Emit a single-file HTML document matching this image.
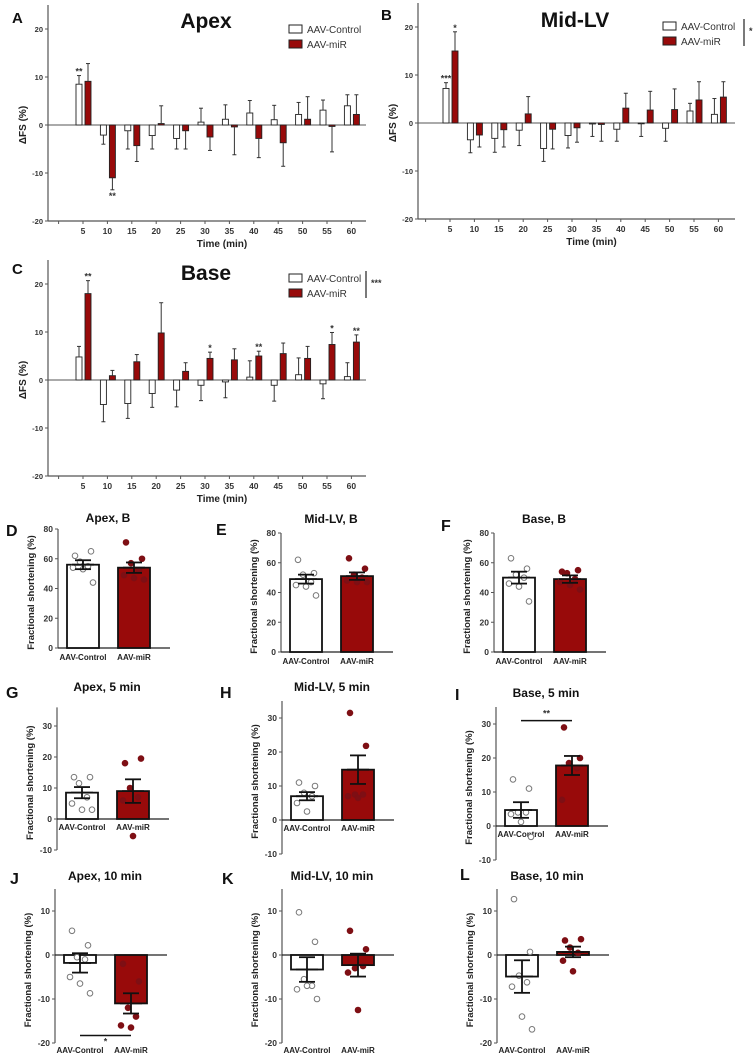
<!DOCTYPE html>
<html><head><meta charset="utf-8"><style>
body{margin:0;background:#fff}
svg{display:block;font-family:"Liberation Sans",Arial,sans-serif}
</style></head><body>
<svg id="fig" width="756" height="1057" viewBox="0 0 756 1057"></svg>
<script>
// ---------- time-course data ----------
const timeCats = [5,10,15,20,25,30,35,40,45,50,55,60];
const apexCtrl = [8.5,-2.1,-1.2,-2.2,-2.8,0.6,1.2,2.5,1.1,2.2,3.1,4.0];
const apexCtrlErr = [10.3,-4,-5,-5,-5,3.5,4.2,5.1,4.1,4.7,5.2,6.3];
const apexMir = [9.1,-11,-4.3,0.3,-1.2,-2.5,-0.4,-2.8,-3.7,1.2,-0.3,2.2];
const apexMirErr = [12.8,-13.5,-7.6,4,-5,-5.3,-6.2,-6.8,-8.6,5.9,-5.6,6.3];
const midCtrl = [7.2,-3.5,-3.2,-1.5,-5.3,-2.6,-0.2,-1.3,0,-1.1,2.5,1.8];
const midCtrlErr = [8.4,-6.2,-6.1,-4.7,-8,-5.2,-2.8,-3.8,-2.8,-3.8,4.1,5.1];
const midMir = [15,-2.5,-1.4,1.9,-1.3,-1,-0.3,3.1,2.7,2.8,4.8,5.4];
const midMirErr = [19,-5,-5,5.5,-5.4,-4,-3.8,6.2,6.6,7.1,8.6,8.6];
const baseCtrl = [4.8,-5.1,-4.9,-2.8,-2.1,-1.1,-0.4,0.6,-1.1,1.1,-0.8,0.7];
const baseCtrlErr = [7,-8.7,-8,-5.7,-5.6,-4.3,-3.7,4,-4.4,4.6,-3.9,3.6];
const baseMir = [18,0.9,3.8,9.8,1.8,4.5,4.2,5,5.5,4.5,7.4,7.9];
const baseMirErr = [20.7,2,5.3,16.1,3.6,5.8,6.5,6,7.7,7,9.9,9.4];
const yTicksTC = [20,10,0,-10,-20];

// ---------- small panel data ----------
const dCtrl=[62,65,58,55,54,53,44], dMir=[71,60,57,52,49,47,46], dStats=[56,3,54,3.5];
const eCtrl=[62,53,52,47,45,44,38], eMir=[63,56,52,50,48,47,47], eStats=[49,3,51,2.5];
const fCtrl=[63,56,52,50,46,44,34], fMir=[54,55,53,49,47,45,42], fStats=[50,4,49,2.5];
const gCtrl=[13.5,13.5,11.5,7,5,3,3], gMir=[18,19.5,10,7,6,-5.5], gStats=[8.5,1.8,9,3.8];
const hCtrl=[11,10,8,7,5,2.5], hMir=[31.5,21.8,7.5,7.5,7,6.5], hStats=[7,1.2,14.8,4.2];
const iCtrl=[13.7,11,4,4,3.5,1.2,-3.2], iMir=[29,20,18.5,17,7.7], iStats=[4.7,2.3,17.8,2.8];
const jCtrl=[5.5,2.2,-0.5,-1,-5,-6.5,-8.7], jMir=[-2,-6,-12,-14,-16,-16.5], jStats=[-1.8,2.2,-11,2.3];
const kCtrl=[9.7,3,-5.5,-7,-7.8,-7,-10], kMir=[5.5,1.3,-3,-2.5,-4,-12.5], kStats=[-3.3,2.8,-2.3,2.6];
const lCtrl=[12.7,0.7,-4.7,-6.2,-7.2,-14,-16.9], lMir=[3.3,3.6,1.7,0.5,-1.3,-3.7], lStats=[-4.9,3.7,0.7,1.2];
const ticksB=[80,60,40,20,0], ticks5=[30,20,10,0,-10], ticks10=[10,0,-10,-20];

const NS="http://www.w3.org/2000/svg";
const svg=document.getElementById('fig');
const RED="#980a0a", AX="#555";
function mk(tag,attrs,parent,txt){const e=document.createElementNS(NS,tag);for(const k in attrs)e.setAttribute(k,attrs[k]);if(txt!==undefined)e.textContent=txt;(parent||svg).appendChild(e);return e;}

function timeCourse(o){
  const g=mk('g',{});
  
  
  const y=v=>o.y0-v*4.8, x=i=>o.x5+i*24.4;
  const ya=mk('line',{x1:o.ax,x2:o.ax,y1:o.y0-120,y2:y(-20),stroke:AX,'stroke-width':1.2},g);
  
  const xa=mk('line',{x1:o.ax,x2:o.xEnd,y1:y(-20),y2:y(-20),stroke:AX,'stroke-width':1.2},g);
  
  mk('line',{x1:o.ax,x2:o.xEnd,y1:o.y0,y2:o.y0,stroke:AX,'stroke-width':1},g);
  yTicksTC.forEach(t=>{mk('line',{x1:o.ax-3,x2:o.ax,y1:y(t),y2:y(t),stroke:AX},g);
    const tl=mk('text',{x:o.ax-5,y:y(t)+3,'font-size':7.5,'font-weight':'bold','text-anchor':'end',fill:'#333'},g,t);
    });
  mk('line',{x1:o.x5-24.4,x2:o.x5-24.4,y1:y(-20),y2:y(-20)+3,stroke:AX},g);
  timeCats.forEach((c,i)=>{mk('line',{x1:x(i),x2:x(i),y1:y(-20),y2:y(-20)+3,stroke:AX},g);
    const tl=mk('text',{x:x(i),y:y(-20)+13,'font-size':8.5,'font-weight':'bold','text-anchor':'middle',fill:'#333'},g,c);
    });
  const xt=mk('text',{x:(o.ax+o.xEnd)/2+15,y:y(-20)+26,'font-size':10,'font-weight':'bold','text-anchor':'middle',fill:'#222'},g,'Time (min)');
  
  const yt=mk('text',{x:0,y:0,'font-size':10,'font-weight':'bold','text-anchor':'middle',fill:'#222',transform:`translate(${o.ax-22},${o.y0}) rotate(-90)`},g,'ΔFS (%)');
  
  function series(vals,errs,off,fill,nm){
    vals.forEach((v,i)=>{const cx=x(i)+off;
      const top=Math.min(y(v),o.y0), h=Math.max(Math.abs(y(v)-o.y0),0.8);
      const r=mk('rect',{x:cx-3,y:top,width:6,height:h,fill:fill,stroke:'#222','stroke-width':0.9},g);
      
      mk('line',{x1:cx,x2:cx,y1:y(v),y2:y(errs[i]),stroke:'#333','stroke-width':1},g);
      mk('line',{x1:cx-2,x2:cx+2,y1:y(errs[i]),y2:y(errs[i]),stroke:'#333','stroke-width':1},g);
    });
  }
  series(o.c,o.ce,-4,'#fff','control');
  series(o.m,o.me,5,RED,'mir');
  (o.stars||[]).forEach(s=>{const st=mk('text',{x:x(s[0])+(s[1]?5:-4),y:y(s[3])+(s[3]<0?9:-1),'font-size':9,'font-weight':'bold','text-anchor':'middle',fill:'#333'},g,s[2]);
    });
  const ti=mk('text',{x:o.tx,y:o.ty,'font-size':21,'font-weight':'bold','text-anchor':'middle',fill:'#111'},g,o.title);
  
  const le=mk('text',{x:o.lx,y:o.ly,'font-size':15,'font-weight':'bold',fill:'#111'},g,o.letter);
  
  const lg=mk('g',{},g);
  mk('rect',{x:o.gx,y:o.gy,width:13,height:8,fill:'#fff',stroke:'#222'},lg);
  mk('text',{x:o.gx+18,y:o.gy+8,'font-size':10,fill:'#333'},lg,'AAV-Control');
  mk('rect',{x:o.gx,y:o.gy+15,width:13,height:8,fill:RED,stroke:'#222'},lg);
  mk('text',{x:o.gx+18,y:o.gy+23,'font-size':10,fill:'#333'},lg,'AAV-miR');
  if(o.sig){mk('line',{x1:o.sig[0],x2:o.sig[0],y1:o.gy-3,y2:o.gy+24,stroke:'#222','stroke-width':1.2},lg);
    mk('text',{x:o.sig[0]+5,y:o.gy+12,'font-size':9,'font-weight':'bold',fill:'#333'},lg,o.sig[1]);}
}

timeCourse({name:'chart-apex',ax:48,xEnd:366,x5:83,y0:125,c:apexCtrl,ce:apexCtrlErr,m:apexMir,me:apexMirErr,
  title:'Apex',tx:206,ty:28,letter:'A',lx:12,ly:23,gx:289,gy:25,stars:[[0,0,'**',10.3],[1,1,'**',-13.5]]});
timeCourse({name:'chart-mid-lv',ax:418,xEnd:735,x5:450,y0:123,c:midCtrl,ce:midCtrlErr,m:midMir,me:midMirErr,
  title:'Mid-LV',tx:575,ty:27,letter:'B',lx:381,ly:20,gx:663,gy:22,sig:[744,'*'],stars:[[0,0,'***',8.4],[0,1,'*',19]]});
timeCourse({name:'chart-base',ax:48,xEnd:366,x5:83,y0:380,c:baseCtrl,ce:baseCtrlErr,m:baseMir,me:baseMirErr,
  title:'Base',tx:206,ty:280,letter:'C',lx:12,ly:274,gx:289,gy:274,sig:[366,'***'],
  stars:[[0,1,'**',20.7],[5,1,'*',5.8],[7,1,'**',6],[10,1,'*',9.9],[11,1,'**',9.4]]});

const jit=[-8,8,-3,5,-10,0,10];
function small(o){
  const g=mk('g',{});
  
  
  const y=v=>o.y0-v*o.k;
  const lo=o.ticks[o.ticks.length-1], hi=o.top;
  mk('line',{x1:o.ax,x2:o.ax,y1:y(hi),y2:y(lo),stroke:AX,'stroke-width':1.2},g);
  mk('line',{x1:o.ax,x2:o.ax+112,y1:o.y0,y2:o.y0,stroke:'#222','stroke-width':1.2},g);
  o.ticks.forEach(t=>{mk('line',{x1:o.ax-3,x2:o.ax,y1:y(t),y2:y(t),stroke:AX},g);
    const tl=mk('text',{x:o.ax-5,y:y(t)+3,'font-size':8.5,'font-weight':'bold','text-anchor':'end',fill:'#333'},g,t);
    });
  const cxs=[o.ax+25,o.ax+76];
  const names=['AAV-Control','AAV-miR'];
  names.forEach((n,i)=>{const t=mk('text',{x:cxs[i],y:o.labY,'font-size':8,'font-weight':'bold','text-anchor':'middle',fill:'#222'},g,n);
    });
  const yt=mk('text',{x:0,y:0,'font-size':9.5,'font-weight':'bold','text-anchor':'middle',fill:'#222',transform:`translate(${o.ax-24},${(y(hi)+y(lo))/2+4}) rotate(-90)`},g,'Fractional shortening (%)');
  
  const pts=[o.c,o.m];
  [0,1].forEach(i=>{const mean=o.s[i*2], sem=o.s[i*2+1], cx=cxs[i];
    const top=Math.min(y(mean),o.y0), h=Math.abs(y(mean)-o.y0);
    const r=mk('rect',{x:cx-16,y:top,width:32,height:h,fill:i?RED:'#fff',stroke:'#111','stroke-width':1.8},g);
    
    pts[i].forEach((v,j)=>{const p=mk('circle',{cx:cx+jit[j%7],cy:y(v),r:2.8,fill:i?'#7e0f14':'#fff',stroke:i?'#7e0f14':'#777','stroke-width':1},g);
      });
    mk('line',{x1:cx,x2:cx,y1:y(mean-sem),y2:y(mean+sem),stroke:'#111','stroke-width':1.8},g);
    mk('line',{x1:cx-8,x2:cx+8,y1:y(mean-sem),y2:y(mean-sem),stroke:'#111','stroke-width':1.8},g);
    mk('line',{x1:cx-8,x2:cx+8,y1:y(mean+sem),y2:y(mean+sem),stroke:'#111','stroke-width':1.8},g);
    mk('line',{x1:cx-11,x2:cx+11,y1:y(mean),y2:y(mean),stroke:'#111','stroke-width':1.8},g);
  });
  if(o.sigY!==undefined){mk('line',{x1:cxs[0],x2:cxs[1],y1:y(o.sigY),y2:y(o.sigY),stroke:'#111','stroke-width':1.5},g);
    const st=mk('text',{x:(cxs[0]+cxs[1])/2,y:y(o.sigY)+(o.sigBelow?9:-4),'font-size':9,'font-weight':'bold','text-anchor':'middle',fill:'#333'},g,o.sigT);
    }
  const ti=mk('text',{x:o.ax+50,y:o.ty,'font-size':12,'font-weight':'bold','text-anchor':'middle',fill:'#111'},g,o.title);
  
  const le=mk('text',{x:o.lx,y:o.ly,'font-size':16,'font-weight':'bold',fill:'#111'},g,o.letter);
  
}
const kB=119/80;
small({name:'chart-apex-baseline',ax:58,y0:648,k:kB,top:80,ticks:ticksB,c:dCtrl,m:dMir,s:dStats,labY:660,title:'Apex, B',ty:522,letter:'D',lx:6,ly:536});
small({name:'chart-mid-lv-baseline',ax:281,y0:652,k:kB,top:80,ticks:ticksB,c:eCtrl,m:eMir,s:eStats,labY:664,title:'Mid-LV, B',ty:523,letter:'E',lx:216,ly:535});
small({name:'chart-base-baseline',ax:494,y0:652,k:kB,top:80,ticks:ticksB,c:fCtrl,m:fMir,s:fStats,labY:664,title:'Base, B',ty:523,letter:'F',lx:441,ly:531});
small({name:'chart-apex-5min',ax:57,y0:819,k:3.1,top:36,ticks:ticks5,c:gCtrl,m:gMir,s:gStats,labY:830,title:'Apex, 5 min',ty:691,letter:'G',lx:6,ly:698});
small({name:'chart-mid-lv-5min',ax:282,y0:820,k:3.4,top:35,ticks:ticks5,c:hCtrl,m:hMir,s:hStats,labY:831,title:'Mid-LV, 5 min',ty:691,letter:'H',lx:220,ly:698});
small({name:'chart-base-5min',ax:496,y0:826,k:3.4,top:35,ticks:ticks5,c:iCtrl,m:iMir,s:iStats,labY:837,title:'Base, 5 min',ty:697,letter:'I',lx:455,ly:700,sigY:31,sigT:'**'});
small({name:'chart-apex-10min',ax:55,y0:955,k:4.4,top:15,ticks:ticks10,c:jCtrl,m:jMir,s:jStats,labY:1053,title:'Apex, 10 min',ty:880,letter:'J',lx:10,ly:884,sigY:-18.3,sigT:'*',sigBelow:true});
small({name:'chart-mid-lv-10min',ax:282,y0:955,k:4.4,top:15,ticks:ticks10,c:kCtrl,m:kMir,s:kStats,labY:1053,title:'Mid-LV, 10 min',ty:880,letter:'K',lx:222,ly:884});
small({name:'chart-base-10min',ax:497,y0:955,k:4.4,top:15,ticks:ticks10,c:lCtrl,m:lMir,s:lStats,labY:1053,title:'Base, 10 min',ty:880,letter:'L',lx:460,ly:880});
</script>
</body></html>
